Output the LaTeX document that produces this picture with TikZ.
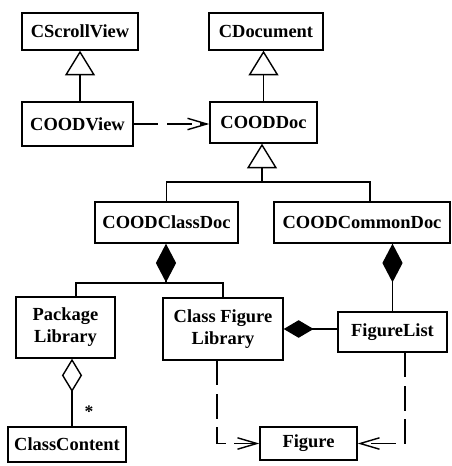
\documentclass[tikz,border=0pt]{standalone}
\usepackage{fontspec}
\setmainfont{Liberation Serif}
\usetikzlibrary{arrows.meta}
\begin{document}
\begin{tikzpicture}[x=0.02cm,y=-0.02cm,line width=0.8pt,
	cls/.style={draw,inner sep=0pt,align=center,font=\bfseries\fontsize{10.5}{12.5}\selectfont},
	inh/.style={-{Triangle[open,length=14pt,width=17pt]}},
	comp/.style={-{Diamond[length=22pt,width=11.5pt]}},
	compside/.style={-{Diamond[length=17pt,width=10pt]}},
	aggr/.style={-{Diamond[open,length=19pt,width=11.5pt]}},
	dep/.style={dash pattern=on 14pt off 5pt,-{Straight Barb[length=11pt,width=6.5pt]}}]
		\useasboundingbox (0,0) rectangle (452,466);
		
		\node[cls,minimum width=2.32cm,minimum height=0.74cm] (scroll) at (80,31.5) {CScrollView};
		\node[cls,minimum width=2.22cm,minimum height=0.88cm] (view) at (77.5,124) {COODView};
		\node[cls,minimum width=2.28cm,minimum height=0.74cm] (cdoc) at (266,31.5) {CDocument};
		\node[cls,minimum width=2.14cm,minimum height=0.82cm] (doc) at (263.5,122.5) {COODDoc};
		
		\node[cls,minimum width=2.86cm,minimum height=0.82cm] (classdoc) at (166.5,222.5) {COODClassDoc};
		\node[cls,minimum width=3.52cm,minimum height=0.82cm] (commondoc) at (362,222.5) {COODCommonDoc};
		
		\node[cls,minimum width=1.98cm,minimum height=1.22cm] (pkglib) at (65.5,327.5) {Package\\Library};
		\node[cls,minimum width=2.40cm,minimum height=1.24cm] (cfl) at (223,329) {Class Figure\\Library};
		\node[cls,minimum width=2.18cm,minimum height=0.80cm] (figlist) at (392.5,332) {FigureList};
		\node[cls,minimum width=2.36cm,minimum height=0.70cm] (content) at (67,444.5) {ClassContent};
		\node[cls,minimum width=1.94cm,minimum height=0.66cm] (figure) at (308.5,443.5) {Figure};
		
		\coordinate (split) at (262,182);
		\coordinate (cjoin) at (166,283);
		
		\draw[inh] (view.north -| scroll.south) -- (scroll.south);
		\draw[inh] (doc.north) -- (doc.north |- cdoc.south);
		\draw[inh] (split) -- (split |- doc.south);
		\draw (classdoc.north) |- (split) -| ([xshift=0.16cm]commondoc.north);
		
		\draw[comp] (cjoin) -- (cjoin |- classdoc.south);
		\draw ([xshift=0.21cm]pkglib.north) |- (cjoin) -| (cfl.north);
		\draw[comp] (figlist.north) -- (figlist.north |- commondoc.south);
		\draw[compside] (figlist.west |- cfl.east) -- (cfl.east);
		\draw[aggr] ([xshift=0.1cm]content.north) -- ([xshift=0.1cm]content.north |- pkglib.south) node[pos=0.22,right,xshift=0.12cm,font=\bfseries] {*};
		
		\draw[dep] (view.east) -- (view.east -| doc.west);
		\draw[dep] ([xshift=-0.12cm]cfl.south) |- (figure.west);
		\draw[dep] ([xshift=0.25cm]figlist.south) |- (figure.east);
\end{tikzpicture}
\end{document}
